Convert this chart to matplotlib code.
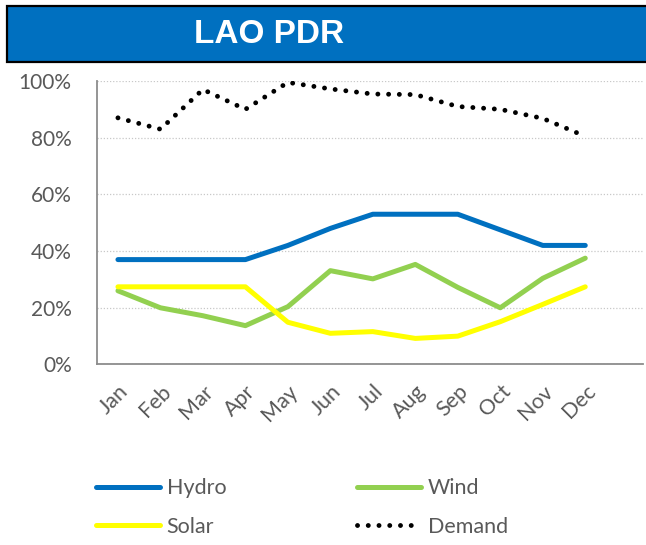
import matplotlib
matplotlib.use('Agg')
import matplotlib.pyplot as plt
from matplotlib.patches import Rectangle
from matplotlib.ticker import PercentFormatter

months = ['Jan', 'Feb', 'Mar', 'Apr', 'May', 'Jun',
          'Jul', 'Aug', 'Sep', 'Oct', 'Nov', 'Dec']
hydro = [37, 37, 37, 37, 42, 48, 53, 53, 53, 47.5, 42, 42]
wind = [26, 20, 17.2, 13.7, 20.4, 33.1, 30.2, 35.3, 27.2, 20, 30.4, 37.5]
solar = [27.4, 27.4, 27.4, 27.4, 14.9, 11, 11.6, 9.2, 10, 15.1, 21.2, 27.4]
demand = [87, 83, 97, 90, 99.5, 97.2, 95.4, 95.2, 91, 90, 86.8, 80.5]

plt.rcParams['font.family'] = ['Lato', 'DejaVu Sans']
grey = '#595959'

fig = plt.figure(figsize=(6.46, 5.45), dpi=100)
ax = fig.add_axes([0.1497, 0.3312, 0.8457, 0.5202])

x = list(range(len(months)))
ax.plot(x, hydro, color='#0070C0', lw=3.6, solid_capstyle='round', label='Hydro', zorder=3)
ax.plot(x, wind, color='#92D050', lw=3.6, solid_capstyle='round', label='Wind', zorder=3)
ax.plot(x, solar, color='#FFFF00', lw=3.6, solid_capstyle='round', label='Solar', zorder=3)
ax.plot(x, demand, color='black', lw=3.5, linestyle=(0, (0.01, 2.2)),
        dash_capstyle='round', label='Demand', zorder=3)

ax.set_ylim(0, 100)
ax.set_xlim(-0.5, 12.36)
ax.set_yticks([0, 20, 40, 60, 80, 100])
ax.yaxis.set_major_formatter(PercentFormatter(decimals=0))
ax.set_xticks(x)
ax.set_xticklabels(months, rotation=45, ha='right', va='top', rotation_mode='anchor')
ax.tick_params(axis='both', length=0, labelsize=15, colors=grey)
ax.tick_params(axis='y', pad=18)
ax.tick_params(axis='x', pad=12, labelsize=15.5)

ax.grid(axis='y', color='#C8C8C8', linestyle=(0, (1, 1.5)), lw=0.9)
ax.set_axisbelow(True)
for side in ['top', 'right']:
    ax.spines[side].set_visible(False)
for side in ['left', 'bottom']:
    ax.spines[side].set_color('#8C8C8C')
    ax.spines[side].set_linewidth(1.3)

# Title banner
fig.patches.append(Rectangle((0.0108, 0.8862), 1.05, 0.1028, transform=fig.transFigure,
                             facecolor='#0070C0', edgecolor='black', lw=1.6))
fig.text(0.4164, 0.9376, 'LAO PDR', color='white', fontsize=24, fontweight='bold',
         ha='center', va='center', family=['Liberation Sans', 'DejaVu Sans'])

# Legend in two columns
handles, labels = ax.get_legend_handles_labels()
for cols, xpos in [((0, 2), 0.148), ((1, 3), 0.552)]:
    leg = fig.legend([handles[i] for i in cols], [labels[i] for i in cols],
                     loc='center left', bbox_to_anchor=(xpos, 0.069),
                     frameon=False, fontsize=15.5, handlelength=3.0,
                     handletextpad=0.3, labelspacing=0.85, borderpad=0,
                     borderaxespad=0)
    for t in leg.get_texts():
        t.set_color(grey)

fig.savefig('out.png', dpi=100)
